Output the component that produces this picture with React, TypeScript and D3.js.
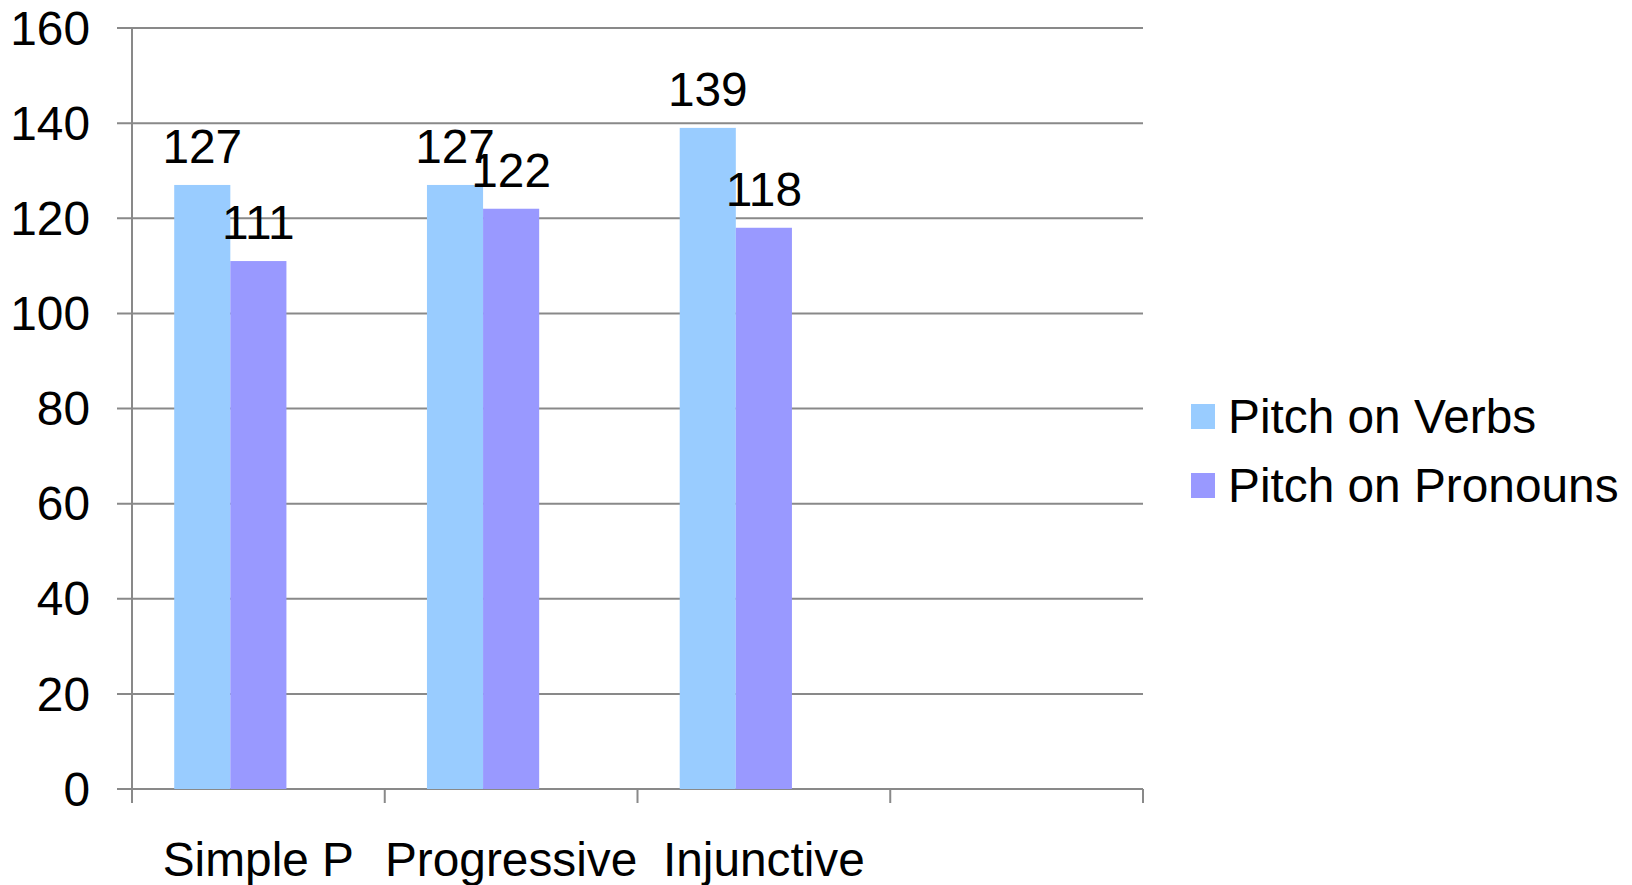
import React from "react";
import * as d3 from "d3";

const categories = ["Simple P", "Progressive", "Injunctive", ""];
const seriesNames = ["Pitch on Verbs", "Pitch on Pronouns"];
const verbs = [127, 127, 139];
const pronouns = [111, 122, 118];
const yTicks = [0, 20, 40, 60, 80, 100, 120, 140, 160];
const colors = ["#99CCFF", "#9999FF"];

const W = 1632;
const H = 885;
const left = 132;
const right = 1143;
const top = 28;
const bottom = 789;
const font = "'Liberation Sans', Arial, Helvetica, sans-serif";
const fontSize = 47.8;
const gridColor = "#898989";

export default function App() {
  const x = d3.scaleBand<string>().domain(categories).range([left, right]).padding(0);
  const y = d3.scaleLinear().domain([0, 160]).range([bottom, top]);
  const bw = x.bandwidth();
  // three slots per category (third slot is unused), with gaps on each side
  const inner = d3
    .scaleBand<string>()
    .domain(["a", "b", "c"])
    .range([bw * 0.167, bw * 0.833])
    .padding(0);
  const slotKeys = ["a", "b"];
  const series = [verbs, pronouns];

  return (
    <svg
      width={W}
      height={H}
      style={{ position: "absolute", left: 0, top: 0, background: "#fff" }}
      fontFamily={font}
    >
      {yTicks.map((t) => (
        <g key={t}>
          <line x1={left - 15} x2={right} y1={y(t)} y2={y(t)} stroke={gridColor} strokeWidth={2} />
          <text x={90} y={y(t)} dy="0.35em" textAnchor="end" fontSize={fontSize} fill="#000">
            {t}
          </text>
        </g>
      ))}
      <line x1={left} x2={left} y1={top} y2={bottom + 14} stroke={gridColor} strokeWidth={2} />
      {categories.map((c, i) => (
        <line
          key={"t" + i}
          x1={(x(c) as number) + bw}
          x2={(x(c) as number) + bw}
          y1={bottom}
          y2={bottom + 14}
          stroke={gridColor}
          strokeWidth={2}
        />
      ))}
      {series.map((vals, s) =>
        vals.map((v, i) => {
          const bx = (x(categories[i]) as number) + (inner(slotKeys[s]) as number);
          return (
            <rect
              key={`b${s}-${i}`}
              x={bx}
              y={y(v)}
              width={inner.bandwidth()}
              height={y(0) - y(v)}
              fill={colors[s]}
            />
          );
        })
      )}
      {series.map((vals, s) =>
        vals.map((v, i) => {
          const cx = (x(categories[i]) as number) + (inner(slotKeys[s]) as number) + inner.bandwidth() / 2;
          return (
            <text key={`l${s}-${i}`} x={cx} y={y(v) - 22} textAnchor="middle" fontSize={fontSize} fill="#000">
              {v}
            </text>
          );
        })
      )}
      {categories.map((c, i) => (
        <text
          key={"c" + i}
          x={(x(c) as number) + bw / 2}
          y={876}
          textAnchor="middle"
          fontSize={fontSize}
          fill="#000"
        >
          {c}
        </text>
      ))}
      {seriesNames.map((n, i) => (
        <g key={n} transform={`translate(1191, ${404 + i * 69})`}>
          <rect x={0} y={0} width={24} height={25} fill={colors[i]} />
          <text x={37} y={29} fontSize={fontSize} fill="#000">
            {n}
          </text>
        </g>
      ))}
    </svg>
  );
}
